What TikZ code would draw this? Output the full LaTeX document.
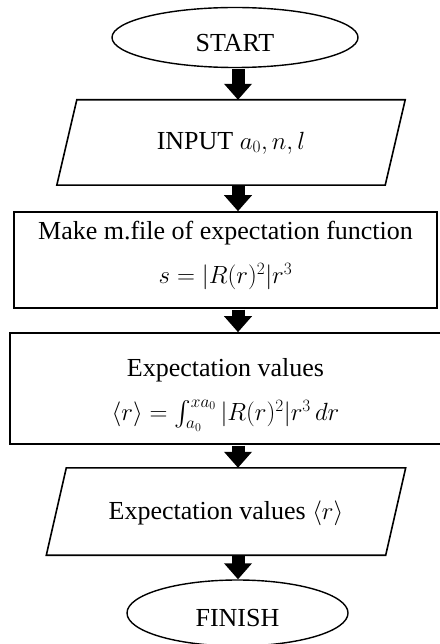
\documentclass[tikz,border=0pt]{standalone}
\usepackage{exscale}
\usepackage{fontspec}
\setmainfont{Liberation Serif}
\usetikzlibrary{shapes.geometric,arrows.meta,calc}
\begin{document}
\begin{tikzpicture}[x=1pt,y=-1pt,
  every node/.style={font=\fontsize{26}{44}\selectfont, inner sep=0pt, align=center},
  term/.style={draw, ellipse, line width=1.4pt},
  io/.style={rectangle, draw=none},
  iobox/.style={line width=1.6pt, line join=miter},
  proc/.style={draw, rectangle, line width=1.6pt},
  flow/.style={line width=13pt, -{Triangle[width=27pt,length=16pt]}, shorten <=0.8pt}
]
\useasboundingbox (0,0) rectangle (439,644);
\fill[white] (0,0) rectangle (439,644);
\coordinate (ax) at (238,0);

\node[term, minimum width=246, minimum height=60] (start) at (235,37.5) {};
\node at (235,43) {START};

\node[io, minimum width=328, minimum height=85] (in1) at (231,142.5) {};
\draw[iobox] ($(in1.north west)+(10,0)$) -- ($(in1.north east)+(10,0)$) -- ($(in1.south east)+(-10,0)$) -- ($(in1.south west)+(-10,0)$) -- cycle;
\node at (231,143) {INPUT $a_0, n, l$};

\node[proc, minimum width=423, minimum height=96] (box1) at (225.5,260) {};
\node at (225.5,255) {Make m.file of expectation function\\ $s = |R(r)^2|r^3$};

\node[proc, minimum width=450, minimum height=111] (box2) at (235,388.5) {};
\node at (225.5,395) {Expectation values\\[0pt] $\langle r\rangle = \int_{a_0}^{x a_0}|R(r)^2|r^3\,dr$};

\node[io, minimum width=339, minimum height=87] (in2) at (226,511.5) {};
\draw[iobox] ($(in2.north west)+(10,0)$) -- ($(in2.north east)+(10,0)$) -- ($(in2.south east)+(-10,0)$) -- ($(in2.south west)+(-10,0)$) -- cycle;
\node at (226,513) {Expectation values $\langle r\rangle$};

\node[term, minimum width=221, minimum height=66] (finish) at (237.5,613) {};
\node at (237.5,618) {FINISH};

\draw[flow] (start.south -| ax) -- (in1.north -| ax);
\draw[flow] (in1.south -| ax) -- (box1.north -| ax);
\draw[flow] (box1.south -| ax) -- (box2.north -| ax);
\draw[flow] (box2.south -| ax) -- (in2.north -| ax);
\draw[flow] (in2.south -| ax) -- (finish.north -| ax);
\end{tikzpicture}
\end{document}
